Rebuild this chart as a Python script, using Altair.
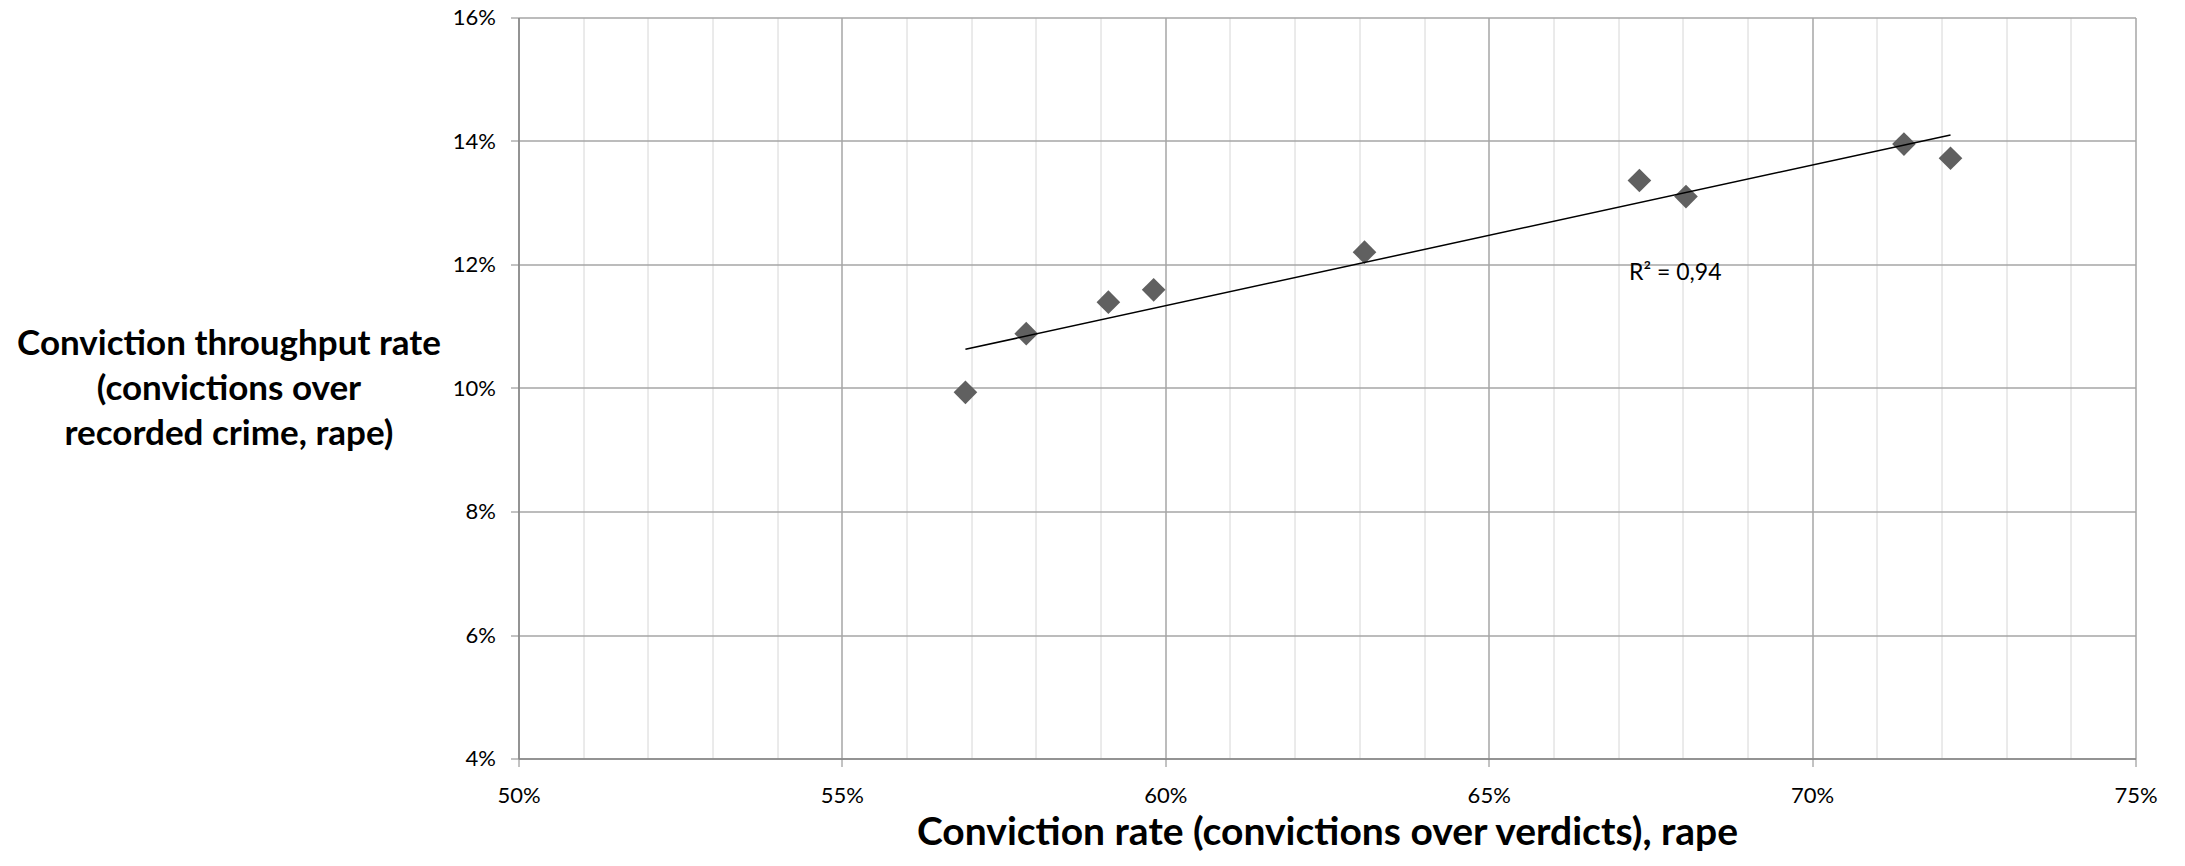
import altair as alt
import pandas as pd

# Conviction rate (convictions over verdicts), rape
conviction_rate = [0.5691, 0.5785, 0.5912, 0.5982, 0.6308, 0.6733, 0.6805, 0.7142, 0.7214]
# Conviction throughput rate (convictions over recorded crime, rape)
throughput_rate = [0.0993, 0.1088, 0.1139, 0.1159, 0.1220, 0.1336, 0.1310, 0.1395, 0.1372]

x_grid_values = [round(0.50 + i * 0.01, 2) for i in range(26)]
y_tick_values = [0.04, 0.06, 0.08, 0.10, 0.12, 0.14, 0.16]

r2_text = ["R² = 0,94"]
r2_pos_x = [0.6717]
r2_pos_y = [0.1175]

df = pd.DataFrame({"x": conviction_rate, "y": throughput_rate})
ann = pd.DataFrame({"x": r2_pos_x, "y": r2_pos_y, "t": r2_text})

FONT = "Lato"
major_test = "abs(round(datum.value * 100)) % 5 === 0"

x_enc = alt.X(
    "x:Q",
    scale=alt.Scale(domain=[0.50, 0.75], nice=False, zero=False),
    axis=alt.Axis(
        values=x_grid_values,
        format=".0%",
        labelExpr=f"{major_test} ? datum.label : ''",
        grid=True,
        gridColor={"condition": {"test": major_test, "value": "#a6a6a6"}, "value": "#d6d6d6"},
        gridWidth={"condition": {"test": major_test, "value": 1.5}, "value": 1},
        tickOpacity={"condition": {"test": major_test, "value": 1}, "value": 0},
        tickColor="#868686",
        tickSize=8,
        domainColor="#868686",
        domainWidth=1.5,
        labelFont=FONT,
        labelFontSize=22,
        labelColor="#000000",
        labelPadding=19,
        labelFlush=False,
        title="Conviction rate (convictions over verdicts), rape",
        titleFont=FONT,
        titleFontSize=39,
        titleFontWeight="bold",
        titleColor="#000000",
        titleBaseline="alphabetic",
        titleY=86,
    ),
)

y_enc = alt.Y(
    "y:Q",
    scale=alt.Scale(domain=[0.04, 0.16], nice=False, zero=False),
    axis=alt.Axis(
        values=y_tick_values,
        format=".0%",
        grid=True,
        gridColor="#a6a6a6",
        gridWidth=1.5,
        tickColor="#868686",
        tickSize=8,
        domainColor="#868686",
        domainWidth=1.5,
        labelFont=FONT,
        labelFontSize=22,
        labelColor="#000000",
        labelPadding=15,
        title=["Conviction throughput rate", "(convictions over", "recorded crime, rape)"],
        titleFont=FONT,
        titleFontSize=35,
        titleFontWeight="bold",
        titleColor="#000000",
        titleAngle=0,
        titleAlign="center",
        titleBaseline="alphabetic",
        titleLineHeight=45,
        titleX=-290,
        titleY=337,
    ),
)

base = alt.Chart(df)

points = base.mark_point(
    shape="diamond", filled=True, size=560, color="#606060", opacity=1
).encode(x=x_enc, y=y_enc)

trend = base.transform_regression("x", "y").mark_line(
    color="#000000", strokeWidth=1.5
).encode(x="x:Q", y="y:Q")

label = alt.Chart(ann).mark_text(
    align="left", baseline="alphabetic", font=FONT, fontSize=23, color="#000000"
).encode(x="x:Q", y="y:Q", text="t:N")

chart = (
    alt.layer(points, trend, label)
    .properties(
        width=1617,
        height=741,
        autosize="none",
        padding={"left": 510.5, "top": 9.5, "right": 30, "bottom": 95},
        background="#ffffff",
    )
    .configure_view(strokeWidth=0)
)

chart.save("out.html", embed_options={"renderer": "svg", "actions": False})
